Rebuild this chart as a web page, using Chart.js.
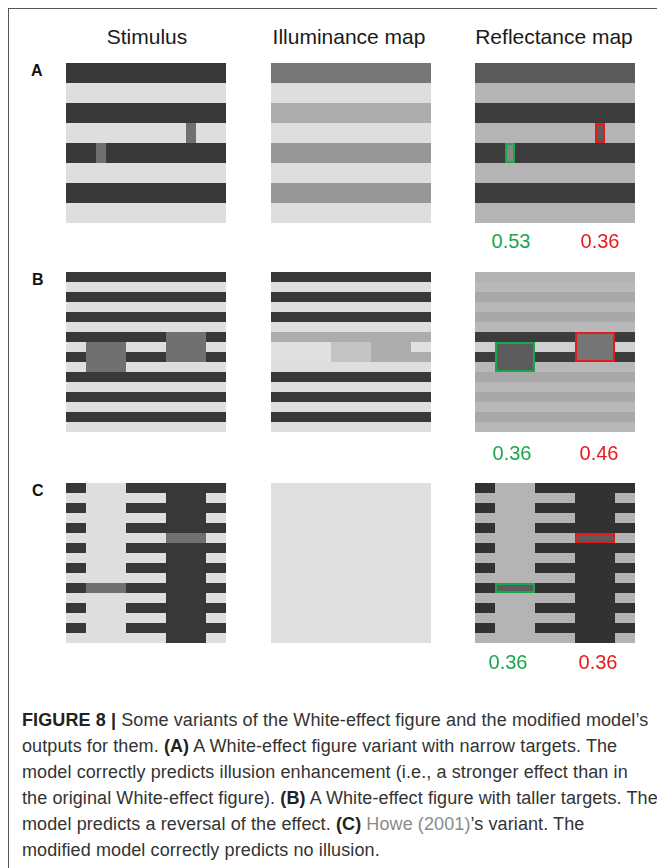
<!DOCTYPE html>
<html>
<head>
<meta charset="utf-8">
<script src="https://cdn.jsdelivr.net/npm/chart.js@4.4.0/dist/chart.umd.min.js"></script>
<style>
  body { margin: 0; width: 657px; height: 868px; background: #fff; position: relative; overflow: hidden;
         font-family: 'Liberation Sans', Arial, Helvetica, sans-serif; color: #222; }
  .frame { position: absolute; left: 8px; top: 8px; width: 700px; height: 900px;
           border-left: 1px solid #555; border-top: 1px solid #555; }
  canvas { position: absolute; }
  .t { position: absolute; line-height: 0; white-space: nowrap; }
  .col { font-size: 21px; width: 220px; text-align: center; color: #1a1a1a; }
  .tag { font-size: 16px; font-weight: bold; color: #111; }
  .val { font-size: 20px; width: 80px; text-align: center; }
  .caption { position: absolute; left: 22px; top: 707px; font-size: 18px; line-height: 26px;
             letter-spacing: 0.1px; color: #333; white-space: nowrap; }
  .caption b { color: #222; }
  .caption .ref { color: #8a8a8a; }
</style>
</head>
<body>
<div class="frame"></div>

<div class="t col" style="left:37px; top:37px;">Stimulus</div>
<div class="t col" style="left:239px; top:37px;">Illuminance map</div>
<div class="t col" style="left:444px; top:37px;">Reflectance map</div>

<div class="t tag" style="left:31px; top:71px;">A</div>
<div class="t tag" style="left:32px; top:280px;">B</div>
<div class="t tag" style="left:32px; top:491px;">C</div>

<canvas id="stimA" width="160" height="160" style="left:66px; top:63px;"></canvas>
<canvas id="illumA" width="160" height="160" style="left:271px; top:63px;"></canvas>
<canvas id="reflA" width="160" height="160" style="left:475px; top:63px;"></canvas>
<canvas id="stimB" width="160" height="160" style="left:66px; top:272px;"></canvas>
<canvas id="illumB" width="160" height="160" style="left:271px; top:272px;"></canvas>
<canvas id="reflB" width="160" height="160" style="left:475px; top:272px;"></canvas>
<canvas id="stimC" width="160" height="160" style="left:66px; top:483px;"></canvas>
<canvas id="illumC" width="160" height="160" style="left:271px; top:483px;"></canvas>
<canvas id="reflC" width="160" height="160" style="left:475px; top:483px;"></canvas>

<div id="labels"></div>

<div class="caption">
<b>FIGURE 8 |</b> Some variants of the White-effect figure and the modified model’s<br>
outputs for them. <b>(A)</b> A White-effect figure variant with narrow targets. The<br>
model correctly predicts illusion enhancement (i.e., a stronger effect than in<br>
the original White-effect figure). <b>(B)</b> A White-effect figure with taller targets. The<br>
model predicts a reversal of the effect. <b>(C)</b> <span class="ref">Howe (2001)</span>’s variant. The<br>
modified model correctly predicts no illusion.
</div>

<script>
const COLS = 16;
const TARGET_GREY = 112;

// grey levels per stripe, top to bottom (0-255)
const stimulusA    = [56, 222, 56, 222, 56, 222, 56, 222];
const illuminanceA = [118, 222, 173, 222, 151, 222, 151, 222];
const reflectanceA = [90, 180, 60, 180, 60, 180, 60, 180];

const stimulusB    = [56, 222, 56, 222, 56, 222, 56, 222, 56, 222, 56, 222, 56, 222, 56, 222];
const illuminanceB = [56, 222, 56, 222, 56, 222, 173, 224, 224, 222, 56, 222, 56, 222, 56, 222];
const reflectanceB = [178, 184, 168, 184, 168, 184, 60, 208, 60, 184, 168, 184, 168, 184, 168, 184];

const stimulusC    = [56, 222, 56, 222, 56, 222, 56, 222, 56, 222, 56, 222, 56, 222, 56, 222];
const illuminanceC = [224, 224, 224, 224, 224, 224, 224, 224, 224, 224, 224, 224, 224, 224, 224, 224];
const reflectanceC = [50, 180, 50, 180, 50, 180, 50, 180, 50, 180, 50, 180, 50, 180, 50, 180];

// extra patches: [rowFrom, rowTo, colFrom, colTo, grey]
const illumPatchesB = [[7, 8, 6, 10, 196], [7, 7, 10, 14, 173], [8, 8, 10, 16, 173]];
const columnsC      = [[0, 15, 2, 6, 222], [0, 15, 10, 14, 56]];
const reflColumnsC  = [[0, 15, 2, 6, 180], [0, 15, 10, 14, 50]];

// targets: [rowFrom, rowTo, colFrom, colTo], left (green) then right (red)
const targetsA = [[4, 4, 3, 4], [3, 3, 12, 13]];
const targetsB = [[7, 9, 2, 6], [6, 8, 10, 14]];
const targetsC = [[10, 10, 2, 6], [5, 5, 10, 14]];

// model reflectance of the two targets
const valuesA = [0.53, 0.36];
const valuesB = [0.36, 0.46];
const valuesC = [0.36, 0.36];

const GREEN = '#1aa64c';
const RED = '#e8191b';

function grey(g) { return 'rgb(' + g + ',' + g + ',' + g + ')'; }

function stripeChart(id, rows, patches, boxes) {
  const span = (r0, r1, c0, c1) => rows.map((_, i) => (i >= r0 && i <= r1 ? [c0, c1] : null));
  // lower order is painted on top, so stripes go last
  const datasets = [{ data: rows.map(() => [0, COLS]), backgroundColor: rows.map(grey), order: 100 }];
  patches.forEach((p, k) => {
    datasets.push({ data: span(p[0], p[1], p[2], p[3]), backgroundColor: grey(p[4]), order: 50 - k });
  });
  boxes.forEach((b, k) => {
    datasets.push({
      data: span(b.t[0], b.t[1], b.t[2], b.t[3]),
      backgroundColor: grey(b.grey),
      borderColor: b.color || 'transparent',
      borderSkipped: false,
      order: 10 - k,
      borderWidth: ctx => b.color ? {
        left: 2, right: 2,
        top: ctx.dataIndex === b.t[0] ? 2 : 0,
        bottom: ctx.dataIndex === b.t[1] ? 2 : 0
      } : 0
    });
  });
  return new Chart(document.getElementById(id), {
    type: 'bar',
    data: { labels: rows.map((_, i) => i), datasets: datasets },
    options: {
      indexAxis: 'y',
      responsive: false,
      animation: false,
      events: [],
      layout: { padding: 0 },
      datasets: { bar: { grouped: false, barPercentage: 1, categoryPercentage: 1, inflateAmount: 0 } },
      elements: { bar: { inflateAmount: 0 } },
      plugins: { legend: { display: false }, tooltip: { enabled: false } },
      scales: {
        x: { type: 'linear', min: 0, max: COLS, display: false },
        y: { display: false }
      }
    }
  });
}

const stimTargets = ts => ts.map(t => ({ t: t, grey: TARGET_GREY }));
const reflTargets = (ts, vals) => ts.map((t, i) => ({
  t: t, grey: Math.round(vals[i] * 255), color: i === 0 ? GREEN : RED
}));

stripeChart('stimA', stimulusA, [], stimTargets(targetsA));
stripeChart('illumA', illuminanceA, [], []);
stripeChart('reflA', reflectanceA, [], reflTargets(targetsA, valuesA));

stripeChart('stimB', stimulusB, [], stimTargets(targetsB));
stripeChart('illumB', illuminanceB, illumPatchesB, []);
stripeChart('reflB', reflectanceB, [], reflTargets(targetsB, valuesB));

stripeChart('stimC', stimulusC, columnsC, stimTargets(targetsC));
stripeChart('illumC', illuminanceC, [], []);
stripeChart('reflC', reflectanceC, reflColumnsC, reflTargets(targetsC, valuesC));

// numbers under the reflectance maps: [values, baseline, green x, red x]
const valueRows = [[valuesA, 248, 511, 600], [valuesB, 460, 512, 599], [valuesC, 669, 508, 598]];
const holder = document.getElementById('labels');
valueRows.forEach(r => {
  [r[2], r[3]].forEach((cx, i) => {
    const d = document.createElement('div');
    d.className = 't val';
    d.style.left = (cx - 40) + 'px';
    d.style.top = (r[1] - 7) + 'px';
    d.style.color = i === 0 ? GREEN : RED;
    d.textContent = r[0][i].toFixed(2);
    holder.appendChild(d);
  });
});
</script>
</body>
</html>
